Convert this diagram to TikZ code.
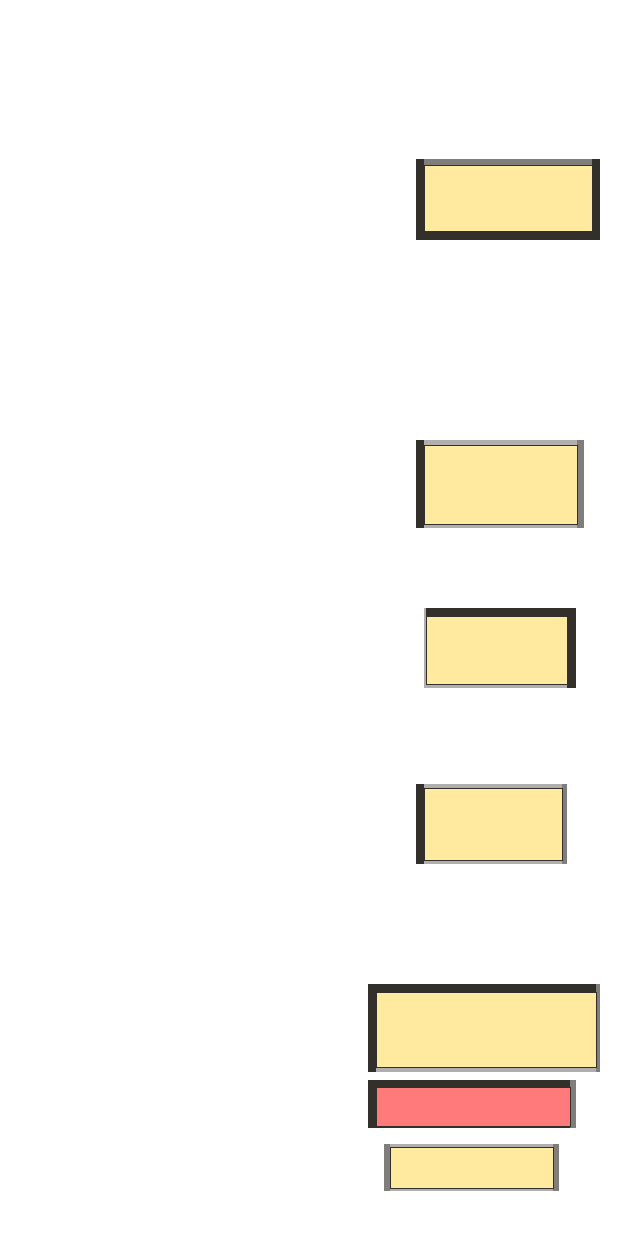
\documentclass[tikz,border=0pt]{standalone}
\definecolor{EdgeDark}{RGB}{51,48,43}
\definecolor{EdgeGray}{RGB}{128,126,124}
\definecolor{EdgeLight}{RGB}{176,174,174}
\definecolor{CardYellow}{RGB}{255,234,160}
\definecolor{CardRed}{RGB}{255,123,123}
\usepackage{tikz}
\usetikzlibrary{positioning, fit}

\begin{document}
\begin{tikzpicture}[x=0.02cm, y=-0.02cm,
	card/.style={rectangle, draw=EdgeDark, line width=0.4pt, inner sep=0pt}]
	\useasboundingbox (0,0) rectangle (630,1244);
	% marcos biselados: nombre/relleno/esquinas/bordes (ancho y color de cada lado)
	\foreach \n/\fc/\xa/\ya/\xb/\yb/\l/\t/\r/\b/\lc/\tc/\rc/\bc in {
		1/CardYellow/416/159/600/240/8/6/8/9/EdgeDark/EdgeGray/EdgeDark/EdgeDark,
		2/CardYellow/416/440/584/528/8/5/7/4/EdgeDark/EdgeLight/EdgeGray/EdgeLight,
		3/CardYellow/424/608/576/688/2/8/9/4/EdgeLight/EdgeDark/EdgeDark/EdgeLight,
		4/CardYellow/416/784/567/864/8/4/5/4/EdgeDark/EdgeLight/EdgeGray/EdgeLight,
		5/CardYellow/368/984/600/1072/8/8/4/5/EdgeDark/EdgeDark/EdgeGray/EdgeLight,
		6/CardRed/368/1080/576/1128/8/7/6/2/EdgeDark/EdgeDark/EdgeGray/EdgeDark,
		7/CardYellow/384/1144/559/1191/6/3/6/3/EdgeGray/EdgeLight/EdgeGray/EdgeLight}{
		\fill[\tc] (\xa,\ya) rectangle (\xb,\ya+\t);
		\fill[\bc] (\xa,\yb-\b) rectangle (\xb,\yb);
		\fill[\lc] (\xa,\ya) rectangle (\xa+\l,\yb);
		\fill[\rc] (\xb-\r,\ya) rectangle (\xb,\yb);
		\node[card, fill=\fc, fit={(\xa+\l,\ya+\t) (\xb-\r,\yb-\b)}] (card\n) {};}
\end{tikzpicture}
\end{document}
